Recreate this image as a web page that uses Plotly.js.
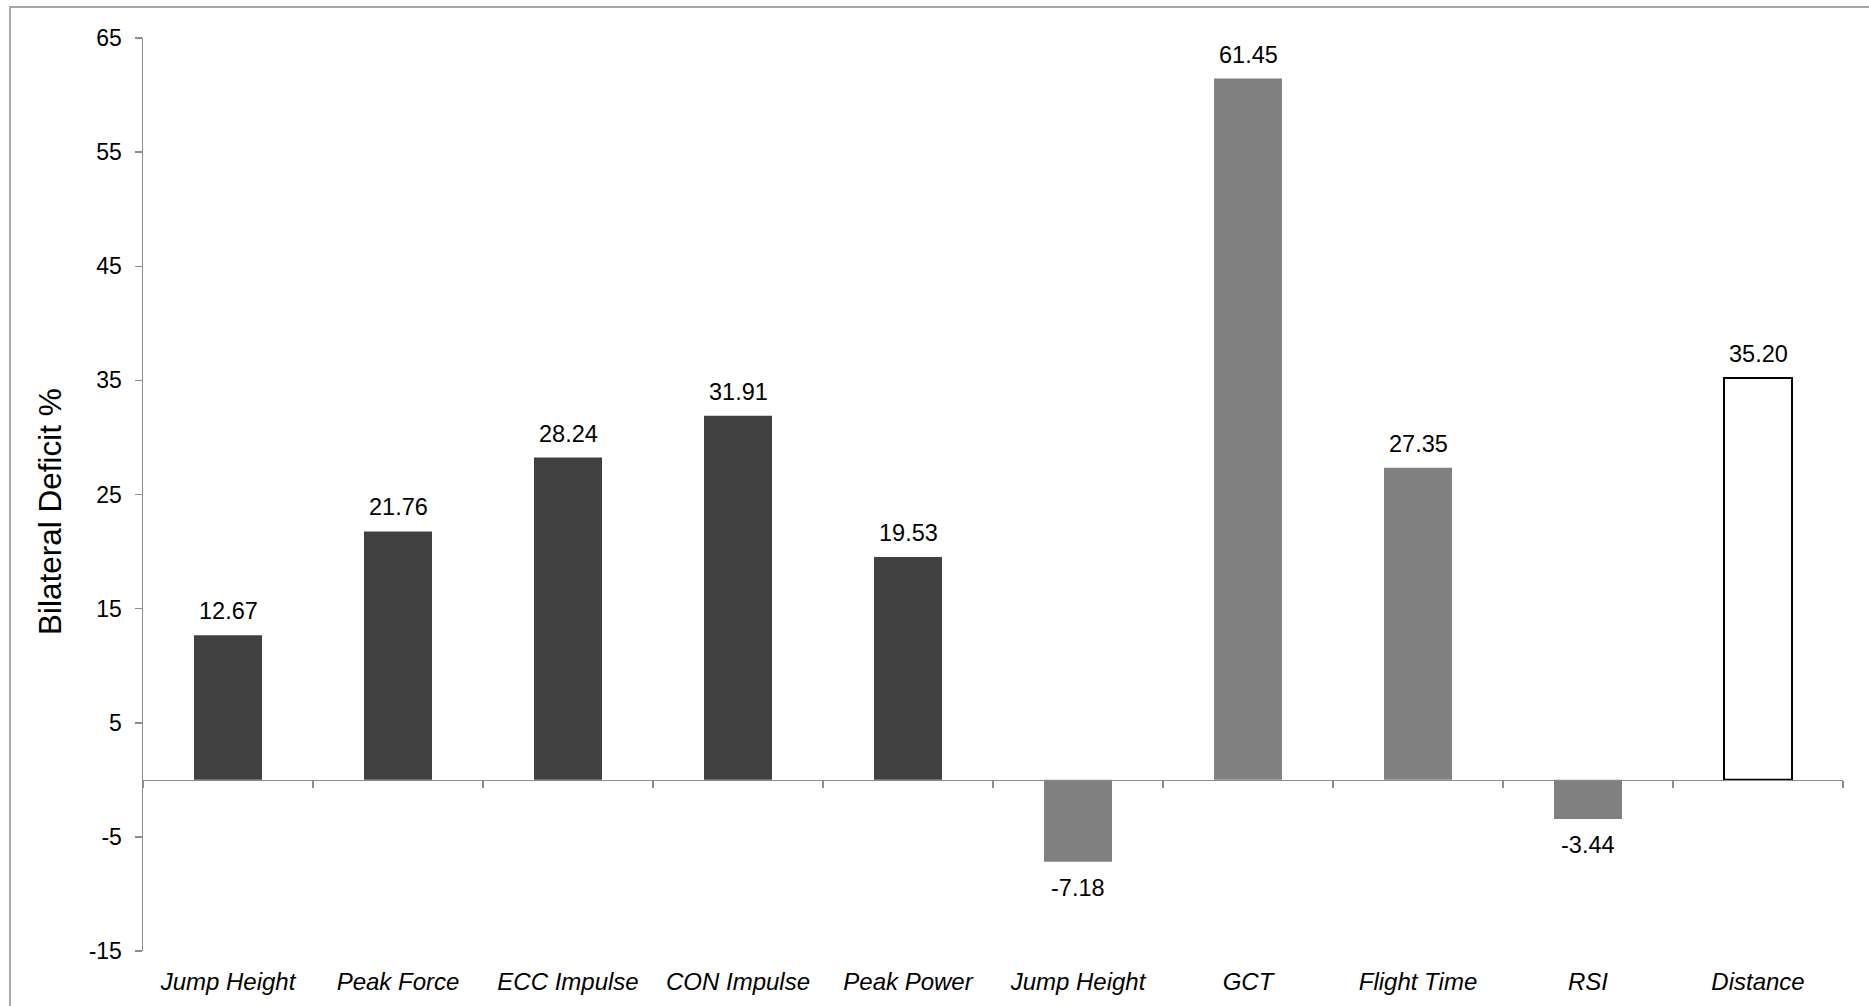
<!DOCTYPE html>
<html>
<head>
<meta charset="utf-8">
<script src="https://cdn.plot.ly/plotly-3.0.1.min.js"></script>
<style>html,body{margin:0;padding:0;background:#fff;}#chart{width:1869px;height:1006px;}</style>
</head>
<body>
<div id="chart"></div>
<script>
// Data
const categories = ["Jump Height", "Peak Force", "ECC Impulse", "CON Impulse", "Peak Power",
                    "Jump Height", "GCT", "Flight Time", "RSI", "Distance"];
const deficit = [12.67, 21.76, 28.24, 31.91, 19.53, -7.18, 61.45, 27.35, -3.44, 35.20];
const groups = ["cmj", "cmj", "cmj", "cmj", "cmj", "dj", "dj", "dj", "dj", "broad"];
const yTicks = [-15, -5, 5, 15, 25, 35, 45, 55, 65];
const yTickText = ["-15", "-5", "5", "15", "25", "35", "45", "55", "65"];

// Styles
const fillByGroup = {cmj: "#404040", dj: "#808080", broad: "#ffffff"};
const lineByGroup = {cmj: 0, dj: 0, broad: 2};
const FONT = "Liberation Sans, Arial, sans-serif";
const AXIS = "#8c8c8c";

const idx = categories.map((_, i) => i);
const bounds = categories.map((_, i) => i - 0.5).concat([categories.length - 0.5]);

const bar = {
  type: "bar",
  x: idx,
  y: deficit,
  width: 0.4,
  marker: {
    color: groups.map(g => fillByGroup[g]),
    line: {color: "#000000", width: groups.map(g => lineByGroup[g])}
  },
  hoverinfo: "x+y",
  showlegend: false
};

// invisible trace to host the boundary tick axis at zero
const tickHost = {
  type: "scatter", x: [-0.5, categories.length - 0.5], y: [0, 0],
  xaxis: "x2", yaxis: "y", mode: "lines", line: {width: 0},
  hoverinfo: "skip", showlegend: false
};

const labelAnn = deficit.map((v, i) => ({
  x: i, y: v, xref: "x", yref: "y",
  text: v.toFixed(2), showarrow: false,
  xanchor: "center", yanchor: "middle",
  yshift: v >= 0 ? 24 : -26,
  font: {family: FONT, size: 23.5, color: "#000"}
}));

const titleAnn = {
  xref: "paper", yref: "paper", x: (50 - 143) / 1700, y: (951 - 512) / 913,
  text: "Bilateral Deficit %", showarrow: false, textangle: -90,
  xanchor: "center", yanchor: "middle",
  font: {family: FONT, size: 31.5, color: "#000"}
};

const layout = {
  width: 1869, height: 1006,
  margin: {l: 143, r: 26, t: 38, b: 55, pad: 0},
  paper_bgcolor: "#ffffff", plot_bgcolor: "#ffffff",
  font: {family: FONT, color: "#000"},
  xaxis: {
    range: [-0.5, categories.length - 0.5],
    tickmode: "array", tickvals: idx, ticktext: categories,
    ticks: "", showline: false, showgrid: false, zeroline: false,
    tickfont: {family: FONT, size: 24, color: "#000", style: "italic"},
    ticklabelstandoff: 14, fixedrange: true
  },
  xaxis2: {
    overlaying: "x", matches: "x", anchor: "free", position: 15 / 80,
    range: [-0.5, categories.length - 0.5],
    tickmode: "array", tickvals: bounds, ticks: "outside", ticklen: 7,
    tickcolor: AXIS, tickwidth: 1.5, showticklabels: false,
    showline: true, linecolor: AXIS, linewidth: 1.5, showgrid: false, zeroline: false
  },
  yaxis: {
    range: [-15, 65], tickmode: "array", tickvals: yTicks, ticktext: yTickText,
    ticks: "outside", ticklen: 7, tickcolor: AXIS, tickwidth: 1.5,
    showline: true, linecolor: AXIS, linewidth: 1.5,
    showgrid: false, zeroline: false,
    tickfont: {family: FONT, size: 23, color: "#000"},
    ticklabelstandoff: 8, fixedrange: true
  },
  shapes: [{
    type: "rect", xref: "paper", yref: "paper",
    x0: (10 - 143) / 1700, x1: 1.2, y0: -0.3, y1: (951 - 7) / 913,
    line: {color: "#a6a6a6", width: 2}, fillcolor: "rgba(0,0,0,0)", layer: "below"
  }],
  annotations: labelAnn.concat([titleAnn]),
  bargap: 0.6
};

Plotly.newPlot("chart", [bar, tickHost], layout, {displayModeBar: false, staticPlot: true});
</script>
</body>
</html>
